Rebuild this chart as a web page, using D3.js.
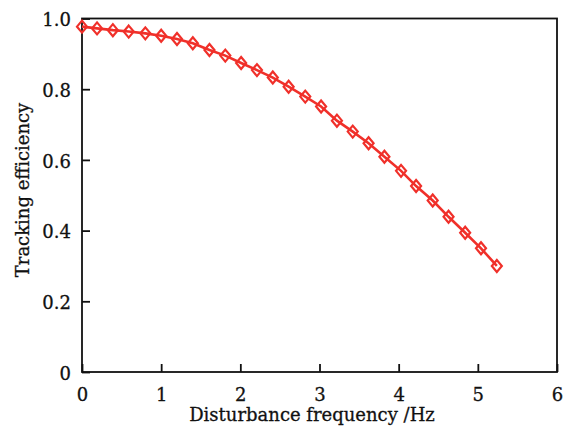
<!DOCTYPE html>
<html>
<head>
<meta charset="utf-8">
<script src="https://cdn.jsdelivr.net/npm/d3@7"></script>
<style>
	html, body { margin: 0; padding: 0; background: #fff; }
	svg { display: block; }
	.axis text { font-family: "DejaVu Serif", serif; font-size: 18px; fill: #111; stroke: #111; stroke-width: 0.3; }
	.title { font-family: "DejaVu Serif", serif; font-size: 18px; fill: #111; stroke: #111; stroke-width: 0.3; }
</style>
</head>
<body>
<svg id="chart"></svg>
<script>
(function(){
	///////////////////////////////////////////////////////////////////
	//// Data /////////////////////////////////////////////////////////
	///////////////////////////////////////////////////////////////////
	const frequency = [0, 0.19, 0.39, 0.59, 0.80, 1.00, 1.20, 1.40, 1.61, 1.81,
		2.01, 2.21, 2.41, 2.61, 2.82, 3.02, 3.22, 3.42, 3.62, 3.82,
		4.03, 4.22, 4.43, 4.63, 4.84, 5.04, 5.24];
	const efficiency = [0.977, 0.972, 0.967, 0.963, 0.958, 0.951, 0.942, 0.930, 0.911, 0.895,
		0.874, 0.854, 0.833, 0.807, 0.779, 0.751, 0.711, 0.680, 0.647, 0.609,
		0.569, 0.526, 0.485, 0.439, 0.394, 0.350, 0.300];
	const xTicks = [0, 1, 2, 3, 4, 5, 6];
	const yTicks = [0, 0.2, 0.4, 0.6, 0.8, 1.0];
	const yTickLabels = ["0", "0.2", "0.4", "0.6", "0.8", "1.0"];

	const data = frequency.map((f, i) => ({x: f, y: efficiency[i]}));

	///////////////////////////////////////////////////////////////////
	//// Set Up ///////////////////////////////////////////////////////
	///////////////////////////////////////////////////////////////////
	const W = 569, H = 428;
	const margin = {top: 18.5, right: 12, bottom: 56, left: 82};
	const width = W - margin.left - margin.right;
	const height = H - margin.top - margin.bottom;
	const red = "#f0302a";

	const x = d3.scaleLinear().domain([0, 6]).range([0, width]);
	const y = d3.scaleLinear().domain([0, 1]).range([height, 0]);

	const svg = d3.select("#chart")
			.attr("width", W)
			.attr("height", H);

	const g = svg.append("g")
			.attr("transform", `translate(${margin.left}, ${margin.top})`);

	// axes (ticks pointing inward)
	g.append("g")
			.attr("class", "axis")
			.attr("transform", `translate(0, ${height})`)
			.call(d3.axisBottom(x).tickValues(xTicks).tickFormat(d3.format("d"))
				.tickSizeInner(-8).tickSizeOuter(0).tickPadding(16));

	const yAxis = g.append("g")
			.attr("class", "axis")
			.call(d3.axisLeft(y).tickValues(yTicks).tickFormat((d, i) => yTickLabels[i])
				.tickSizeInner(-8).tickSizeOuter(0).tickPadding(11));

	g.selectAll(".axis .domain").remove();
	g.selectAll(".axis line").attr("stroke", "#111").attr("stroke-width", 1.8);
	yAxis.selectAll("text").attr("dy", "0.4em");

	// frame
	g.append("rect")
			.attr("width", width)
			.attr("height", height)
			.attr("fill", "none")
			.attr("stroke", "#111")
			.attr("stroke-width", 1.8);

	///////////////////////////////////////////////////////////////////
	//// Line + markers ///////////////////////////////////////////////
	///////////////////////////////////////////////////////////////////
	const line = d3.line()
			.x(d => x(d.x))
			.y(d => y(d.y));

	g.append("path")
			.datum(data)
			.attr("d", line)
			.attr("fill", "none")
			.attr("stroke", red)
			.attr("stroke-width", 2.6);

	const diamond = "M0,-6L5,0L0,6L-5,0Z";
	g.selectAll(".marker")
		.data(data)
		.enter().append("path")
			.attr("class", "marker")
			.attr("transform", d => `translate(${x(d.x)}, ${y(d.y)})`)
			.attr("d", diamond)
			.attr("fill", "none")
			.attr("stroke", red)
			.attr("stroke-width", 2.2);

	///////////////////////////////////////////////////////////////////
	//// Titles ///////////////////////////////////////////////////////
	///////////////////////////////////////////////////////////////////
	svg.append("text")
			.attr("class", "title")
			.attr("x", 312)
			.attr("y", 421)
			.attr("text-anchor", "middle")
			.text("Disturbance frequency /Hz");

	svg.append("text")
			.attr("class", "title")
			.attr("transform", "translate(29, 190) rotate(-90)")
			.attr("text-anchor", "middle")
			.text("Tracking efficiency");
}());
</script>
</body>
</html>
